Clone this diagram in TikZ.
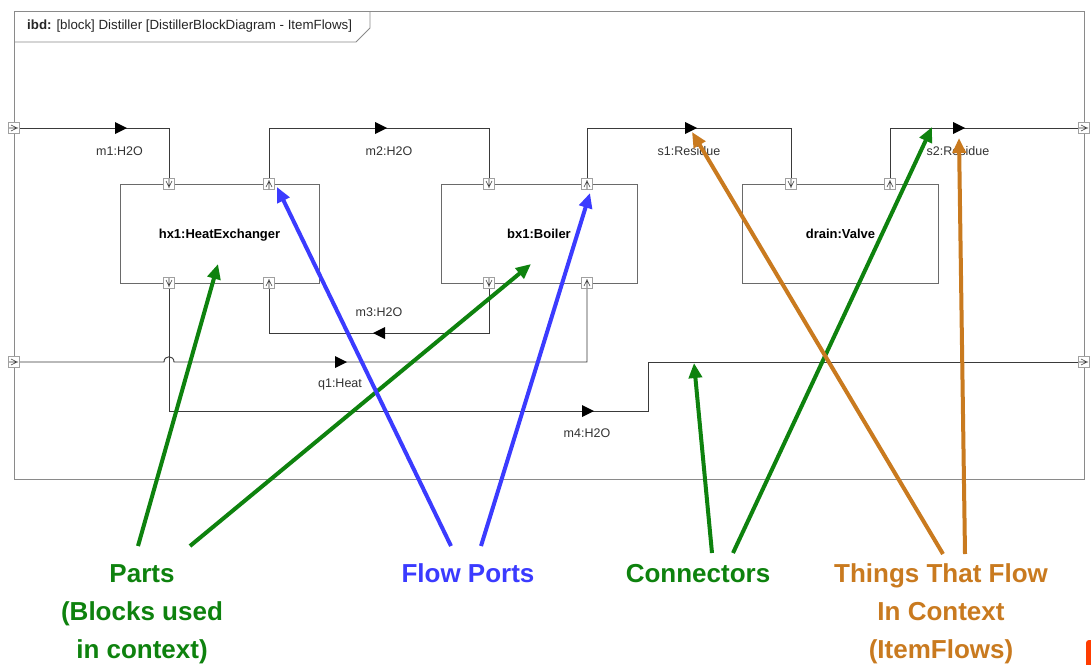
\documentclass[tikz,border=0pt]{standalone}
\usepackage{fontspec}
\setmainfont{Liberation Sans}
\usetikzlibrary{arrows.meta,calc}
\definecolor{lnc}{HTML}{3A3A3A}
\definecolor{bdc}{HTML}{6A6A6A}
\definecolor{frc}{HTML}{8A8A8A}
\definecolor{prc}{HTML}{A0A0A0}
\definecolor{grn}{HTML}{0E820E}
\definecolor{blu}{HTML}{3B3BFF}
\definecolor{org}{HTML}{C97A1F}
\definecolor{blob}{HTML}{FF3C00}
\newcommand\symV[1]{\draw[portsym] (#1) +(0,-5) -- +(0,4) (#1) +(-3,-3) -- +(0,3) -- +(3,-3);}
\newcommand\symA[1]{\draw[portsym] (#1) +(0,-4) -- +(0,5) (#1) +(-3,3) -- +(0,-3) -- +(3,3);}
\newcommand\symR[1]{\draw[portsym] (#1) +(-5,0) -- +(4,0) (#1) +(-3,-3) -- +(3,0) -- +(-3,3);}
\newcommand\flowR[1]{\fill[black] (#1) -- ++(-12,-6) -- ++(0,12) -- cycle;}
\newcommand\flowL[1]{\fill[black] (#1) -- ++(12,-6) -- ++(0,12) -- cycle;}
\begin{document}
\begin{tikzpicture}[x=1pt,y=-1pt,
  blockbox/.style={draw=bdc, line width=1pt, fill=white, minimum width=199pt, minimum height=99pt, inner sep=0pt, text height=9.5pt, text depth=0pt, font=\fontsize{13}{15}\selectfont\bfseries},
  portbox/.style={draw=prc, line width=0.8pt, fill=white, minimum size=11pt, inner sep=0pt},
  portsym/.style={draw=lnc, line width=0.6pt},
  conn/.style={draw=lnc, line width=0.9pt},
  flowlbl/.style={font=\fontsize{12.5}{15}\selectfont, text=black!80, inner sep=0pt},
  note/.style={font=\fontsize{26}{30}\selectfont\bfseries, anchor=base, inner sep=0pt},
  annot/.style={line width=4pt, -{Triangle[length=15pt,width=13pt]}}]
\useasboundingbox (0,0) rectangle (1091,664);
\clip (0,0) rectangle (1091,664);
\fill[white] (0,0) rectangle (1091,664);
% frame
\draw[frc, line width=1pt] (14,11) rectangle (1084,479);
\draw[frc, line width=0.8pt] (14,42) -- (356,42) -- (370,28) -- (370,11);
\node[anchor=west, inner sep=0pt, font=\fontsize{13.3}{15}\selectfont, text=black!85] (title) at (27,26)
  {\textbf{ibd:} [block] Distiller [DistillerBlockDiagram - ItemFlows]};
% blocks
\node[blockbox] (hx1) at (219.5,233.5) {hx1:HeatExchanger};
\node[blockbox, minimum width=196pt] (bx1) at (539,233.5) {bx1:Boiler};
\node[blockbox, minimum width=196pt] (drain) at (840.5,233.5) {drain:Valve};
% port positions
\coordinate (pfL1) at (14,128);
\coordinate (pfL2) at (14,362);
\coordinate (pfR1) at (1084,128);
\coordinate (pfR2) at (1084,362);
\coordinate (phT1) at (169,184);
\coordinate (phT2) at (269,184);
\coordinate (phB1) at (169,283);
\coordinate (phB2) at (269,283);
\coordinate (pbT1) at (489,184);
\coordinate (pbT2) at (587,184);
\coordinate (pbB1) at (489,283);
\coordinate (pbB2) at (587,283);
\coordinate (pdT1) at (791,184);
\coordinate (pdT2) at (890,184);
\coordinate (m4a) at (648,411);
\coordinate (m4b) at (648,362);
% connectors
\draw[conn] (pfL1) -| (phT1);
\draw[conn] (phT2) -- (phT2 |- pfL1) -| (pbT1);
\draw[conn] (pbT2) -- (pbT2 |- pfL1) -| (pdT1);
\draw[conn] (pdT2) -- (pdT2 |- pfR1) -- (pfR1);
\draw[conn] (pbB1) -- ++(0,50) -| (phB2);
\draw[conn] (pfL2) -- (164,362) .. controls (164,355) and (174,355) .. (174,362) -- (pbB2 |- pfL2) -- (pbB2);
\draw[conn] (phB1) -- (phB1 |- m4a) -- (m4a) -- (m4b) -- (pfR2);
% ports
\foreach \p in {pfL1,pfL2,pfR1,pfR2,phT1,phT2,phB1,phB2,pbT1,pbT2,pbB1,pbB2,pdT1,pdT2}
  \node[portbox] (n\p) at (\p) {};
\symR{pfL1}\symR{pfL2}\symR{pfR1}\symR{pfR2}
\symV{phT1}\symA{phT2}\symV{phB1}\symA{phB2}
\symV{pbT1}\symA{pbT2}\symV{pbB1}\symA{pbB2}
\symV{pdT1}\symA{pdT2}
% item flow markers
\flowR{127,128}\flowR{387,128}\flowR{697,128}\flowR{965,128}
\flowL{373,333}\flowR{347,362}\flowR{594,411}
% item flow labels
\node[flowlbl] (lm1) at (119.5,151) {m1:H2O};
\node[flowlbl] (lm2) at (389,151) {m2:H2O};
\node[flowlbl] (ls1) at (689,151) {s1:Residue};
\node[flowlbl] (ls2) at (958,151) {s2:Residue};
\node[flowlbl] (lm3) at (379,312) {m3:H2O};
\node[flowlbl] (lq1) at (340,384) {q1:Heat};
\node[flowlbl] (lm4) at (587,433) {m4:H2O};
% annotation labels
\node[note, text=grn] (parts1) at (142,582) {Parts};
\node[note, text=grn] (parts2) at (142,620) {(Blocks used};
\node[note, text=grn] (parts3) at (142,658) {in context)};
\node[note, text=blu] (fports) at (468,582) {Flow Ports};
\node[note, text=grn] (conns) at (698,582) {Connectors};
\node[note, text=org] (things1) at (941,582) {Things That Flow};
\node[note, text=org] (things2) at (941,620) {In Context};
\node[note, text=org] (things3) at (941,658) {(ItemFlows)};
% annotation arrows
\coordinate (aP1s) at (138,546); \coordinate (aP1t) at (218,264);
\coordinate (aP2s) at (190,546); \coordinate (aP2t) at (531,264);
\coordinate (aF1s) at (451,546); \coordinate (aF1t) at (277,187);
\coordinate (aF2s) at (481,546); \coordinate (aF2t) at (590,193);
\coordinate (aC1s) at (712,553); \coordinate (aC1t) at (694,363);
\coordinate (aC2s) at (733,553); \coordinate (aC2t) at (932,127);
\coordinate (aT1s) at (943,554); \coordinate (aT1t) at (692,132);
\coordinate (aT2s) at (965,554); \coordinate (aT2t) at (959,138);
\draw[annot, grn] (aP1s) -- (aP1t);
\draw[annot, grn] (aP2s) -- (aP2t);
\draw[annot, blu] (aF1s) -- (aF1t);
\draw[annot, blu] (aF2s) -- (aF2t);
\draw[annot, grn] (aC1s) -- (aC1t);
\draw[annot, grn] (aC2s) -- (aC2t);
\draw[annot, org] (aT1s) -- (aT1t);
\draw[annot, org] (aT2s) -- (aT2t);
% clipped corner mark
\fill[blob, rounded corners=3pt] (1086,640) rectangle (1100,680);
\end{tikzpicture}
\end{document}
